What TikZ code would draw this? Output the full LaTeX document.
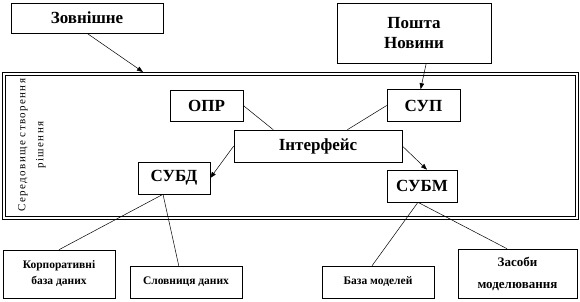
\documentclass[tikz,border=0pt]{standalone}
\usepackage{fontspec}
\setmainfont{Liberation Serif}
\usepackage{tikz}
\usetikzlibrary{positioning,arrows.meta}

\tikzset{
  box/.style={draw, line width=0.6pt, inner sep=0pt, align=center},
  bigbox/.style={box, font=\fontsize{17}{20}\selectfont\bfseries},
  smallbox/.style={box, font=\fontsize{11.5}{16}\selectfont\bfseries},
  link/.style={line width=0.5pt},
  arr/.style={line width=0.5pt, -{Triangle[length=6pt,width=4.5pt]}}
}

\begin{document}
\begin{tikzpicture}[x=1pt, y=-1pt]
  \useasboundingbox (0,0) rectangle (580,302);
  % environment frame
  \draw[line width=0.6pt] (2,72) rectangle (578,219);
  \draw[line width=0.6pt] (5,75) rectangle (575,216);
  \node[rotate=90, align=center, font=\fontsize{11}{18}\selectfont\addfontfeatures{LetterSpace=12}] (env) at (32,145) {Середовище створення\\рішення};
  \coordinate (envtop) at (143,72);

  % outer sources
  \node[bigbox, minimum width=152, minimum height=30] (ext) at (87,18) {Зовнішне};
  \node[bigbox, minimum width=154, minimum height=60] (mail) at (414,33) {Пошта\\Новини};

  % inner blocks
  \node[bigbox, minimum width=73, minimum height=31] (opr) at (206.5,105.5) {ОПР};
  \node[bigbox, minimum width=73, minimum height=32] (sup) at (423.5,105.5) {СУП};
  \node[bigbox, minimum width=168, minimum height=32] (iface) at (318,146) {Інтерфейс};
  \node[bigbox, minimum width=72, minimum height=32] (subd) at (174,178) {СУБД};
  \node[bigbox, minimum width=70, minimum height=32] (subm) at (422,186) {СУБМ};

  % storage blocks
  \node[smallbox, minimum width=112, minimum height=48] (corp) at (59,274) {Корпоративні\\база даних};
  \node[smallbox, minimum width=112, minimum height=32] (dict) at (186,282) {Словниця даних};
  \node[smallbox, minimum width=112, minimum height=32] (modb) at (378,282) {База моделей};
  \node[smallbox, minimum width=119, minimum height=49, font=\fontsize{13}{22}\selectfont\bfseries] (tools) at (517.5,273.5) {Засоби\\моделювання};

  % connectors
  \draw[arr] (ext.south) -- (envtop);
  \draw[arr] (mail.-68) -- (sup.100);
  \draw[link] (opr.east) -- (iface.160);
  \draw[link] (sup.west) -- (iface.29);
  \draw[arr] (iface.west) -- (subd.east);
  \draw[arr] (iface.east) -- (subm.73);
  \draw[link] (subd.-124) -- (corp.north);
  \draw[link] (subd.-124) -- (dict.114);
  \draw[link] (subm.-104) -- (modb.110);
  \draw[link] (subm.-104) -- (tools.113);
\end{tikzpicture}
\end{document}
